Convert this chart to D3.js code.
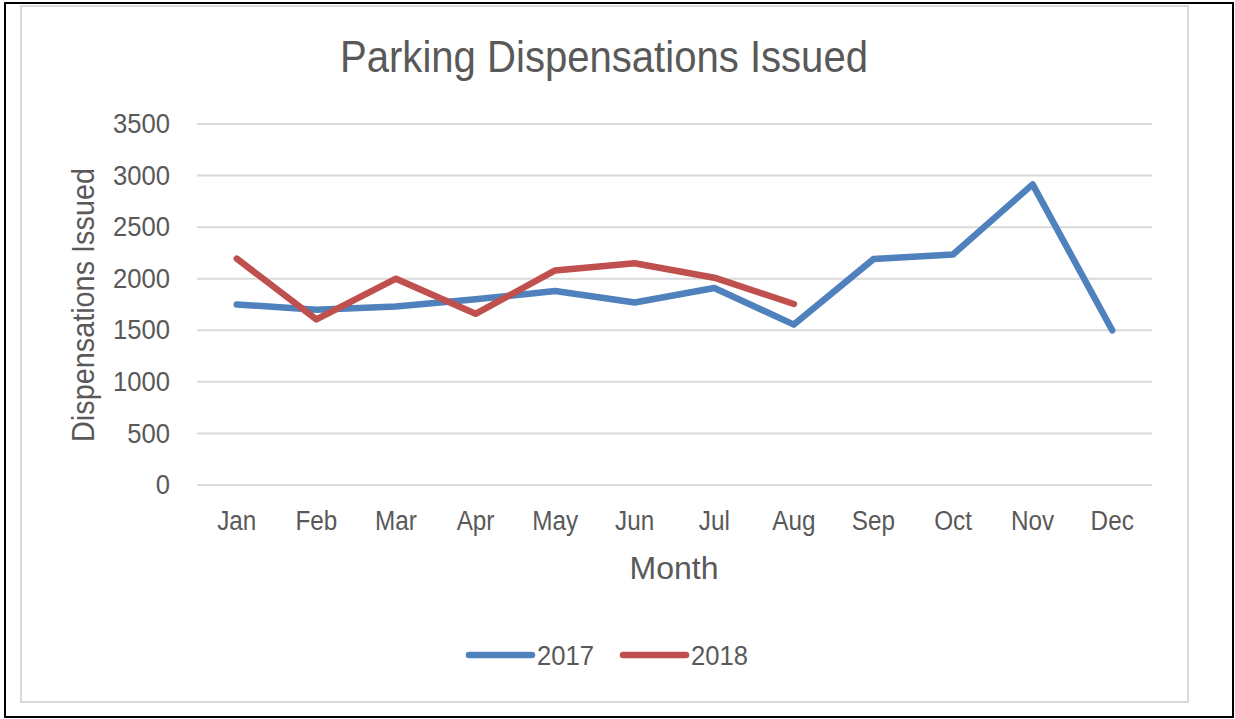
<!DOCTYPE html>
<html><head><meta charset="utf-8">
<script src="https://cdnjs.cloudflare.com/ajax/libs/d3/7.8.5/d3.min.js"></script>
<style>html,body{margin:0;padding:0;background:#fff;} svg{display:block;}</style>
</head><body>
<script>
const months = ["Jan","Feb","Mar","Apr","May","Jun","Jul","Aug","Sep","Oct","Nov","Dec"];
const values2017 = [1750,1700,1730,1800,1880,1770,1910,1555,2190,2235,2915,1500];
const values2018 = [2195,1605,2000,1660,2080,2150,2010,1755];
const yTicks = [0,500,1000,1500,2000,2500,3000,3500];
const seriesNames = ["2017","2018"];
const colors = ["#4f81bd","#c0504d"];

const W = 1235, H = 719;
const font = "'Liberation Sans', Arial, sans-serif";
const txt = "#595959";
const svg = d3.select("body").append("svg").attr("width", W).attr("height", H);

svg.append("rect").attr("x",0).attr("y",0).attr("width",W).attr("height",H).attr("fill","#fff");
// outer black frame
svg.append("rect").attr("x",5).attr("y",3).attr("width",1228).attr("height",714)
  .attr("fill","none").attr("stroke","#000").attr("stroke-width",2);
// chart area border
svg.append("rect").attr("x",21).attr("y",6).attr("width",1167).attr("height",696)
  .attr("fill","#fff").attr("stroke","#d9d9d9").attr("stroke-width",2);

const x = d3.scaleBand().domain(months).range([197,1152]);
const y = d3.scaleLinear().domain([0,3500]).range([485,124]);

// gridlines
svg.append("g").selectAll("line").data(yTicks).join("line")
  .attr("x1",197).attr("x2",1152).attr("y1",d=>y(d)).attr("y2",d=>y(d))
  .attr("stroke","#d9d9d9").attr("stroke-width",2);

// y axis
const yAxis = svg.append("g").attr("transform","translate(197,0)")
  .call(d3.axisLeft(y).tickValues(yTicks).tickSize(0).tickPadding(0).tickFormat(d3.format("d")));
yAxis.select(".domain").remove();
yAxis.selectAll("text").attr("x",0).attr("font-family",font).attr("font-size",27).attr("fill",txt)
  .attr("transform","translate(-27,0) scale(0.95,1)");

// x axis
const xAxis = svg.append("g").attr("transform","translate(0,485)")
  .call(d3.axisBottom(x).tickSize(0).tickPadding(26));
xAxis.select(".domain").remove();
xAxis.selectAll("text").attr("font-family",font).attr("font-size",27).attr("fill",txt)
  .attr("transform","scale(0.9,1)");

function label(xp, yp, str, size, rot, anchor, sx) {
  svg.append("text")
    .attr("transform",`translate(${xp},${yp}) rotate(${rot||0}) scale(${sx},1)`)
    .attr("text-anchor",anchor||"middle")
    .attr("font-family",font).attr("font-size",size).attr("fill",txt).text(str);
}

// title
svg.append("text").attr("x",340).attr("y",72).attr("textLength",528).attr("lengthAdjust","spacingAndGlyphs")
  .attr("font-family",font).attr("font-size",45).attr("fill",txt)
  .text("Parking Dispensations Issued");

// axis titles
label(674, 579, "Month", 32, 0, "middle", 1);
label(94, 305, "Dispensations Issued", 31, -90, "middle", 0.93);

// lines
const line = d3.line().x((d,i)=>x(months[i])+x.bandwidth()/2).y(d=>y(d));
[values2017, values2018].forEach((vals,k)=>{
  svg.append("path").datum(vals).attr("d",line).attr("fill","none")
    .attr("stroke",colors[k]).attr("stroke-width",6.5)
    .attr("stroke-linejoin","round").attr("stroke-linecap","round");
});

// legend
const legendX = [469, 623];
seriesNames.forEach((name,k)=>{
  svg.append("line").attr("x1",legendX[k]).attr("x2",legendX[k]+63).attr("y1",655).attr("y2",655)
    .attr("stroke",colors[k]).attr("stroke-width",6.5).attr("stroke-linecap","round");
  label(legendX[k]+68, 665, name, 27, 0, "start", 0.95);
});
</script>
</body></html>
